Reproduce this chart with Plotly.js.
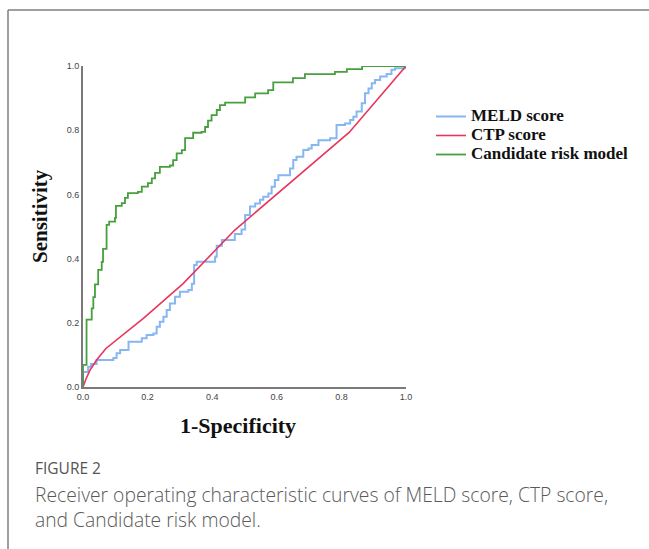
<!DOCTYPE html>
<html>
<head>
<meta charset="utf-8">
<script src="https://cdn.plot.ly/plotly-3.0.1.min.js"></script>
<style>
html,body{margin:0;padding:0;background:#fff;}
#chart{width:649px;height:549px;}
</style>
</head>
<body>
<div id="chart"></div>
<script>
// ---- data ----
const seriesNames = ["MELD score", "CTP score", "Candidate risk model"];

// MELD score ROC (step points, 1-specificity / sensitivity)
const meldX = [0,0,0.016,0.025,0.042,0.094,0.104,0.115,0.141,0.182,0.197,0.218,0.228,0.238,0.249,0.259,0.269,0.285,0.3,0.326,0.337,0.344,0.352,0.409,0.414,0.43,0.47,0.491,0.502,0.517,0.533,0.548,0.558,0.574,0.584,0.594,0.605,0.641,0.651,0.661,0.682,0.698,0.708,0.729,0.765,0.785,0.811,0.827,0.837,0.847,0.863,0.873,0.884,0.894,0.904,0.92,0.94,0.955,0.966,1.0];
const meldY = [0,0.047,0.063,0.072,0.084,0.09,0.105,0.115,0.141,0.152,0.162,0.167,0.188,0.203,0.219,0.24,0.26,0.281,0.297,0.302,0.322,0.38,0.39,0.406,0.44,0.458,0.477,0.491,0.536,0.562,0.572,0.583,0.593,0.603,0.624,0.645,0.66,0.681,0.707,0.717,0.738,0.743,0.754,0.769,0.775,0.816,0.821,0.832,0.842,0.858,0.884,0.915,0.93,0.946,0.956,0.967,0.975,0.988,0.993,1.0];

// CTP score ROC
const ctpX = [0,0.008,0.022,0.042,0.071,0.187,0.31,0.47,0.824,1.0];
const ctpY = [0,0.022,0.053,0.084,0.12,0.214,0.322,0.489,0.793,1.0];

// Candidate risk model ROC (step points)
const crmX = [0,0,0.011,0.027,0.032,0.037,0.047,0.058,0.062,0.073,0.081,0.099,0.102,0.12,0.13,0.139,0.17,0.182,0.201,0.213,0.223,0.238,0.269,0.279,0.29,0.306,0.316,0.341,0.367,0.378,0.387,0.398,0.414,0.424,0.44,0.502,0.533,0.573,0.589,0.65,0.687,0.78,0.817,0.864,1.0];
const crmY = [0,0.069,0.21,0.245,0.28,0.32,0.365,0.39,0.43,0.505,0.515,0.527,0.564,0.573,0.589,0.604,0.608,0.624,0.635,0.65,0.667,0.686,0.69,0.707,0.728,0.738,0.775,0.792,0.795,0.81,0.83,0.847,0.863,0.878,0.886,0.902,0.915,0.925,0.949,0.962,0.975,0.982,0.99,1.0,1.0];

const tickVals = [0,0.2,0.4,0.6,0.8,1.0];
const tickText = ["0.0","0.2","0.4","0.6","0.8","1.0"];
const xTitle = "1-Specificity";
const yTitle = "Sensitivity";
const figLabel = "FIGURE 2";
const captionLines = ["Receiver operating characteristic curves of MELD score, CTP score,", "and Candidate risk model."];

// ---- chart ----
const legendName = s => '<span style="font-size:17px">' + s + '</span>';
const traces = [
  {x: meldX, y: meldY, name: legendName(seriesNames[0]), mode: "lines", line: {color: "#86b7f2", width: 2, shape: "hv"}},
  {x: ctpX, y: ctpY, name: legendName(seriesNames[1]), mode: "lines", line: {color: "#e8355c", width: 1.6}},
  {x: crmX, y: crmY, name: legendName(seriesNames[2]), mode: "lines", line: {color: "#46a03e", width: 1.8, shape: "hv"}}
];

const L = 83, R = 406, T = 66, B = 387, W = 649, H = 549;
const pw = R - L, ph = B - T;
const px = v => (v - L) / pw;
const py = v => (B - v) / ph;
const titleFont = s => ({family: "Liberation Serif, Times New Roman, serif", size: s, color: "#111", weight: "bold"});

const layout = {
  width: W, height: H,
  margin: {l: L, r: W - R, t: T, b: H - B, pad: 0},
  paper_bgcolor: "#fff", plot_bgcolor: "#fff",
  showlegend: true,
  xaxis: {
    range: [0, 1], showgrid: false, zeroline: false,
    showline: true, linecolor: "#7a7a7a", linewidth: 2,
    ticks: "", tickvals: tickVals, ticktext: tickText,
    tickfont: {family: "Liberation Sans, Arial, sans-serif", size: 9, color: "#444"}
  },
  yaxis: {
    range: [0, 1], showgrid: false, zeroline: false,
    showline: true, linecolor: "#7a7a7a", linewidth: 2,
    ticks: "", tickvals: tickVals, ticktext: tickText,
    tickfont: {family: "Liberation Sans, Arial, sans-serif", size: 9, color: "#444"}
  },
  legend: {
    x: px(431), y: py(102), xanchor: "left", yanchor: "top",
    bgcolor: "rgba(0,0,0,0)", borderwidth: 0,
    font: {family: "Liberation Serif, Times New Roman, serif", size: 12.3, color: "#111", weight: "bold"}
  },
  shapes: [
    {type: "line", xref: "paper", yref: "paper", x0: px(8), x1: px(W + 2), y0: py(10), y1: py(10), line: {color: "#7f7f7f", width: 1.5}},
    {type: "line", xref: "paper", yref: "paper", x0: px(8), x1: px(8), y0: py(10), y1: py(H + 2), line: {color: "#7f7f7f", width: 1.5}}
  ],
  annotations: [
    {xref: "paper", yref: "paper", x: px(238), y: py(425), xanchor: "center", yanchor: "middle", showarrow: false,
     text: xTitle, font: titleFont(22)},
    {xref: "paper", yref: "paper", x: px(40), y: py(216), xanchor: "center", yanchor: "middle", showarrow: false,
     textangle: -90, text: yTitle, font: titleFont(21)},
    {xref: "paper", yref: "paper", x: px(33), y: py(468), xanchor: "left", yanchor: "middle", showarrow: false,
     text: figLabel, font: {family: "Open Sans, Noto Sans, sans-serif", size: 15.5, color: "#555"}},
    {xref: "paper", yref: "paper", x: px(33), y: py(494), xanchor: "left", yanchor: "middle", showarrow: false,
     text: captionLines[0], font: {family: "Open Sans, Noto Sans, sans-serif", size: 19.3, color: "#5a5a5a", weight: 300}},
    {xref: "paper", yref: "paper", x: px(33), y: py(519), xanchor: "left", yanchor: "middle", showarrow: false,
     text: captionLines[1], font: {family: "Open Sans, Noto Sans, sans-serif", size: 19.3, color: "#5a5a5a", weight: 300}}
  ]
};

Plotly.newPlot("chart", traces, layout, {displayModeBar: false, staticPlot: true});
</script>
</body>
</html>
